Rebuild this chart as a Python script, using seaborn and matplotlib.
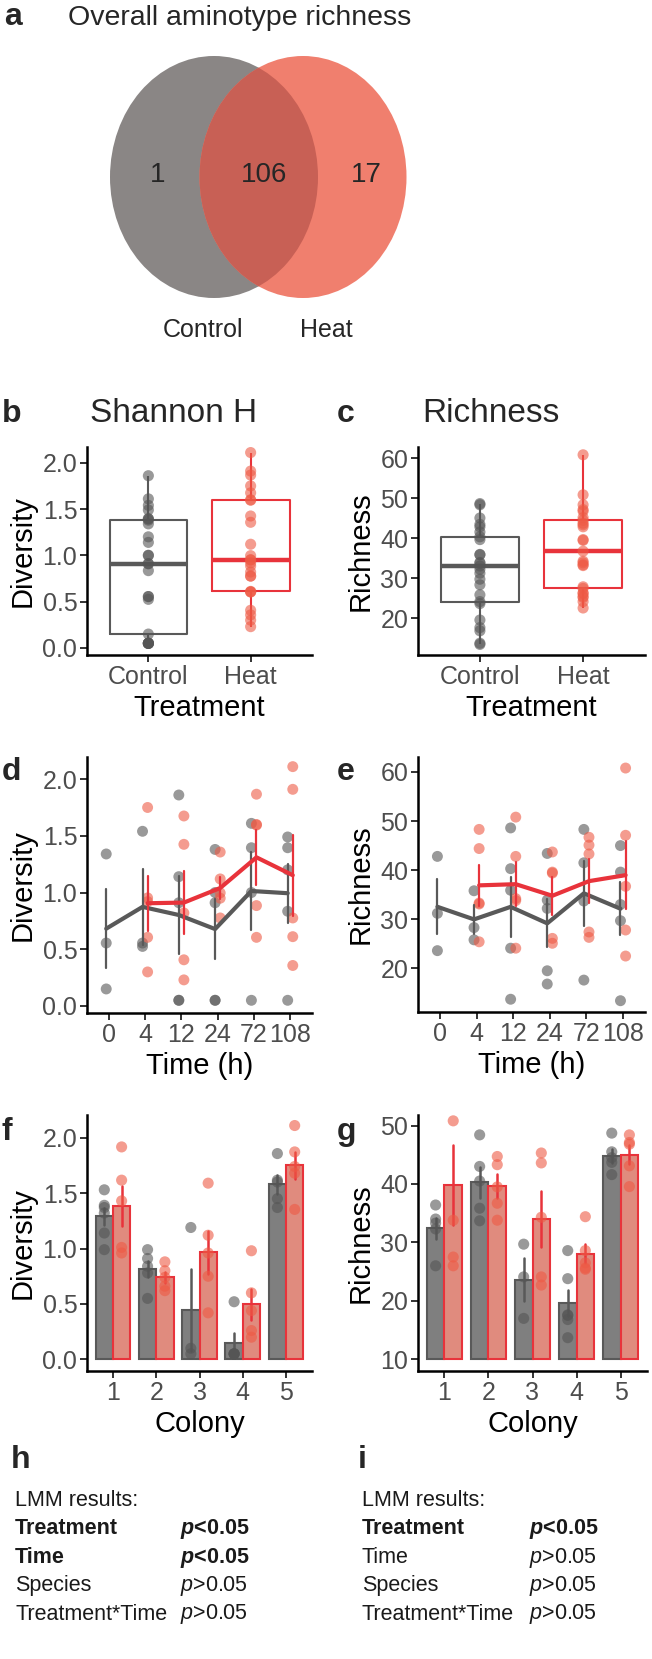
import numpy as np
import pandas as pd
import matplotlib
matplotlib.use("Agg")
import matplotlib.pyplot as plt
from matplotlib.patches import Ellipse
import seaborn as sns

treatments = ["Control", "Heat"]
times = ["0", "4", "12", "24", "72", "108"]
colonies = ["1", "2", "3", "4", "5"]

venn_labels = ["Control", "Heat"]
venn_counts = [1, 106, 17]  # control only, shared, heat only

# Shannon H per sample, grouped by sampling time
div_time_control = [[1.34, 0.555, 0.15], [1.54, 0.555, 0.525],
                    [1.86, 1.14, 0.91, 0.05, 0.05], [1.38, 1.0, 0.91, 0.05, 0.05],
                    [1.61, 1.395, 1.0, 0.05], [1.49, 1.395, 1.2, 0.835, 0.05]]
div_time_heat = [[], [1.75, 0.953, 0.92, 0.605, 0.30],
                 [1.675, 1.425, 0.82, 0.407, 0.23], [1.357, 1.12, 0.997, 0.95, 0.776],
                 [1.867, 1.6, 1.595, 0.885, 0.605], [2.11, 1.91, 0.776, 0.611, 0.357]]

# richness per sample, grouped by sampling time
rich_time_control = [[42.8, 31.2, 23.6], [35.8, 28.3, 25.8],
                     [48.6, 40.3, 35.9, 24.1, 13.7], [43.4, 33.9, 32.2, 19.5, 16.8],
                     [48.3, 41.5, 33.7, 17.6], [45.0, 39.6, 33.0, 29.7, 13.4]]
rich_time_heat = [[], [48.3, 44.4, 33.3, 33.1, 25.4],
                  [50.8, 42.8, 34.2, 33.8, 24.1], [43.7, 39.6, 39.4, 26.1, 25.1],
                  [46.7, 45.1, 43.3, 27.4, 26.3], [60.8, 47.1, 36.7, 27.8, 22.5]]

# same samples grouped by colony
div_col_control = [[1.53, 1.39, 1.37, 1.32, 1.14, 0.99], [0.99, 0.91, 0.84, 0.78, 0.55],
                   [1.19, 0.10, 0.05], [0.52, 0.05, 0.05, 0.05, 0.05],
                   [1.857, 1.617, 1.6, 1.45, 1.37]]
div_col_heat = [[1.917, 1.617, 1.43, 1.01, 0.96], [0.88, 0.80, 0.74, 0.66, 0.62],
                [1.59, 1.12, 0.96, 0.75, 0.42], [0.98, 0.60, 0.44, 0.26, 0.20],
                [2.11, 1.872, 1.74, 1.68, 1.353]]
rich_col_control = [[36.4, 34.0, 33.3, 32.3, 26.0], [48.4, 43.0, 40.5, 35.85, 33.7],
                    [29.7, 24.1, 17.0], [28.6, 23.8, 17.6, 17.5, 16.8, 13.7],
                    [48.7, 45.5, 44.5, 43.7, 41.6]]
rich_col_heat = [[60.8, 50.8, 33.8, 27.5, 26.0], [44.7, 43.3, 39.5, 36.7, 33.8],
                 [45.3, 43.6, 34.3, 24.1, 22.7], [34.4, 28.6, 26.5, 25.6, 25.4],
                 [48.4, 47.1, 46.8, 43.1, 39.55]]

lmm_terms = ["Treatment", "Time", "Species", "Treatment*Time"]
div_signif = [True, True, False, False]
rich_signif = [True, False, False, False]

line_col = {"Control": "#595959", "Heat": "#E8333B"}
point_col = {"Control": "#555555", "Heat": "#EE5A45"}
bar_fill = {"Control": "#7F7F7F", "Heat": "#F07F6E"}


def to_long(control, heat, levels, key, value):
    rows = []
    for treat, groups in zip(treatments, [control, heat]):
        for level, vals in zip(levels, groups):
            rows += [(treat, level, v) for v in vals]
    return pd.DataFrame(rows, columns=["Treatment", key, value])


div_t = to_long(div_time_control, div_time_heat, times, "Time", "Diversity")
rich_t = to_long(rich_time_control, rich_time_heat, times, "Time", "Richness")
div_c = to_long(div_col_control, div_col_heat, colonies, "Colony", "Diversity")
rich_c = to_long(rich_col_control, rich_col_heat, colonies, "Colony", "Richness")

nudge = {"Control": -0.07, "Heat": 0.07}
for df in (div_t, rich_t):
    df["tidx"] = df["Time"].map(times.index)
    df["pos"] = df["tidx"] + df["Treatment"].map(nudge)

sns.set_theme(style="ticks")
plt.rcParams["font.family"] = ["Liberation Sans", "DejaVu Sans"]
plt.rcParams["mathtext.fontset"] = "custom"
plt.rcParams["mathtext.rm"] = "Liberation Sans"
plt.rcParams["mathtext.it"] = "Liberation Sans:italic"
plt.rcParams["mathtext.bf"] = "Liberation Sans:bold"
plt.rcParams["mathtext.bfit"] = "Liberation Sans:italic:bold"

W, H = 652, 1659
fig = plt.figure(figsize=(W / 100, H / 100), dpi=100)


def panel(l, t, r, b):
    return fig.add_axes([l / W, 1 - b / H, (r - l) / W, (b - t) / H])


def ftext(x, y, s, **kw):
    fig.text(x / W, 1 - y / H, s, **kw)


def style(ax, xlabel, ylabel, yticks, ylim, fmt):
    sns.despine(ax=ax)
    for s in ("left", "bottom"):
        ax.spines[s].set_linewidth(1.8)
        ax.spines[s].set_color("black")
    ax.set_ylim(*ylim)
    ax.set_yticks(yticks, [fmt.format(v) for v in yticks])
    ax.tick_params(length=5, width=1.4, color="#333333", labelcolor="#4D4D4D",
                   labelsize=18, pad=2)
    ax.set_xlabel(xlabel, fontsize=21, labelpad=4, color="black")
    ax.set_ylabel(ylabel, fontsize=21, labelpad=4, color="black")


def box_panel(ax, df, col):
    sns.boxplot(data=df, x="Treatment", y=col, hue="Treatment", order=treatments,
                hue_order=treatments, palette=line_col, fill=False, width=0.76,
                linewidth=1.5, showfliers=False, showcaps=False, dodge=False,
                medianprops={"linewidth": 3.2}, legend=False, ax=ax)
    sns.stripplot(data=df, x="Treatment", y=col, hue="Treatment", order=treatments,
                  hue_order=treatments, palette=point_col, jitter=False, size=8,
                  alpha=0.6, linewidth=0, legend=False, ax=ax)
    ax.set_xlim(-0.6, 1.6)


def time_panel(ax, df, col):
    sns.scatterplot(data=df, x="pos", y=col, hue="Treatment", hue_order=treatments,
                    palette=point_col, s=62, alpha=0.6, linewidth=0, legend=False, ax=ax)
    sns.pointplot(data=df, x="tidx", y=col, hue="Treatment", hue_order=treatments,
                  palette=line_col, native_scale=True, errorbar="se", dodge=0.14,
                  markers="", linewidth=3, err_kws={"linewidth": 1.6},
                  legend=False, ax=ax)
    ax.set_xticks(range(len(times)), times)
    ax.set_xlim(-0.6, len(times) - 0.4)


def colony_panel(ax, df, col, base=None):
    for treat in treatments:
        sns.barplot(data=df[df["Treatment"] == treat], x="Colony", y=col, hue="Treatment",
                    order=colonies, hue_order=treatments, palette=bar_fill, dodge=True,
                    errorbar="se", edgecolor=line_col[treat], linewidth=1.5,
                    err_kws={"color": line_col[treat], "linewidth": 1.8},
                    legend=False, ax=ax)
    if base is not None:
        for bar in ax.patches:
            bar.set_height(bar.get_height() - base)
            bar.set_y(base)
    sns.stripplot(data=df, x="Colony", y=col, hue="Treatment", order=colonies,
                  hue_order=treatments, palette=point_col, dodge=True, jitter=False,
                  size=8, alpha=0.6, linewidth=0, legend=False, ax=ax)
    ax.set_xlim(-0.6, len(colonies) - 0.4)


# a: Venn diagram
av = fig.add_axes([0, 1 - 380 / H, 1, 380 / H])
av.set_xlim(0, W)
av.set_ylim(380, 0)
av.axis("off")
left = Ellipse((214, 177), 208, 242, color="#8A8685", lw=0)
right = Ellipse((303, 177), 207, 242, color="#F07F6E", lw=0)
both = Ellipse((214, 177), 208, 242, color="#C86055", lw=0)
for p in (left, right, both):
    av.add_patch(p)
both.set_clip_path(right)
for x, n in zip([158, 264, 366], venn_counts):
    av.text(x, 182, str(n), ha="center", va="baseline", fontsize=20)
for x, lab in zip([203, 326], venn_labels):
    av.text(x, 337, lab, ha="center", va="baseline", fontsize=18)
ftext(4, 25, "a", fontsize=23, fontweight="bold", va="baseline")
ftext(68, 25, "Overall aminotype richness", fontsize=20.5, va="baseline")

div_ticks = [0, 0.5, 1.0, 1.5, 2.0]

ax_b = panel(87, 447, 312, 655)
box_panel(ax_b, div_t, "Diversity")
style(ax_b, "Treatment", "Diversity", div_ticks, (-0.076, 2.17), "{:.1f}")

ax_c = panel(418, 447, 645, 655)
box_panel(ax_c, rich_t, "Richness")
style(ax_c, "Treatment", "Richness", [20, 30, 40, 50, 60], (10.75, 62.75), "{:.0f}")

ax_d = panel(87, 757, 312, 1013)
time_panel(ax_d, div_t, "Diversity")
style(ax_d, "Time (h)", "Diversity", div_ticks, (-0.062, 2.195), "{:.1f}")

ax_e = panel(418, 757, 645, 1012)
time_panel(ax_e, rich_t, "Richness")
style(ax_e, "Time (h)", "Richness", [20, 30, 40, 50, 60], (11.1, 63.05), "{:.0f}")

ax_f = panel(87, 1115, 312, 1371)
colony_panel(ax_f, div_c, "Diversity")
style(ax_f, "Colony", "Diversity", div_ticks, (-0.105, 2.205), "{:.1f}")

ax_g = panel(418, 1115, 647, 1371)
colony_panel(ax_g, rich_c, "Richness", base=10)
style(ax_g, "Colony", "Richness", [10, 20, 30, 40, 50], (8.0, 51.8), "{:.0f}")

# panel letters and titles
ftext(2, 422, "b", fontsize=23, fontweight="bold", va="baseline")
ftext(174, 422, "Shannon H", fontsize=24, ha="center", va="baseline")
ftext(337, 422, "c", fontsize=23, fontweight="bold", va="baseline")
ftext(491, 422, "Richness", fontsize=24, ha="center", va="baseline")
ftext(2, 780, "d", fontsize=23, fontweight="bold", va="baseline")
ftext(337, 780, "e", fontsize=23, fontweight="bold", va="baseline")
ftext(2, 1140, "f", fontsize=23, fontweight="bold", va="baseline")
ftext(337, 1140, "g", fontsize=23, fontweight="bold", va="baseline")

# h, i: model summaries
for x0, xp, letter, signif in [(15, 180, "h", div_signif), (362, 529, "i", rich_signif)]:
    ftext(x0 - 4, 1468, letter, fontsize=23, fontweight="bold", va="baseline")
    ftext(x0, 1501, "LMM results:", fontsize=15.5, va="center", color="#1A1A1A")
    for k, (term, sig) in enumerate(zip(lmm_terms, signif)):
        y = 1529 + 28.5 * k
        w = "bold" if sig else "normal"
        ptxt = r"$\mathbfit{p}$<0.05" if sig else r"$\mathit{p}$>0.05"
        ftext(x0, y, term, fontsize=15.5, fontweight=w, va="center", color="#1A1A1A")
        ftext(xp, y, ptxt, fontsize=15.5, fontweight=w, va="center", color="#1A1A1A")

fig.savefig("out.png", dpi=100)
